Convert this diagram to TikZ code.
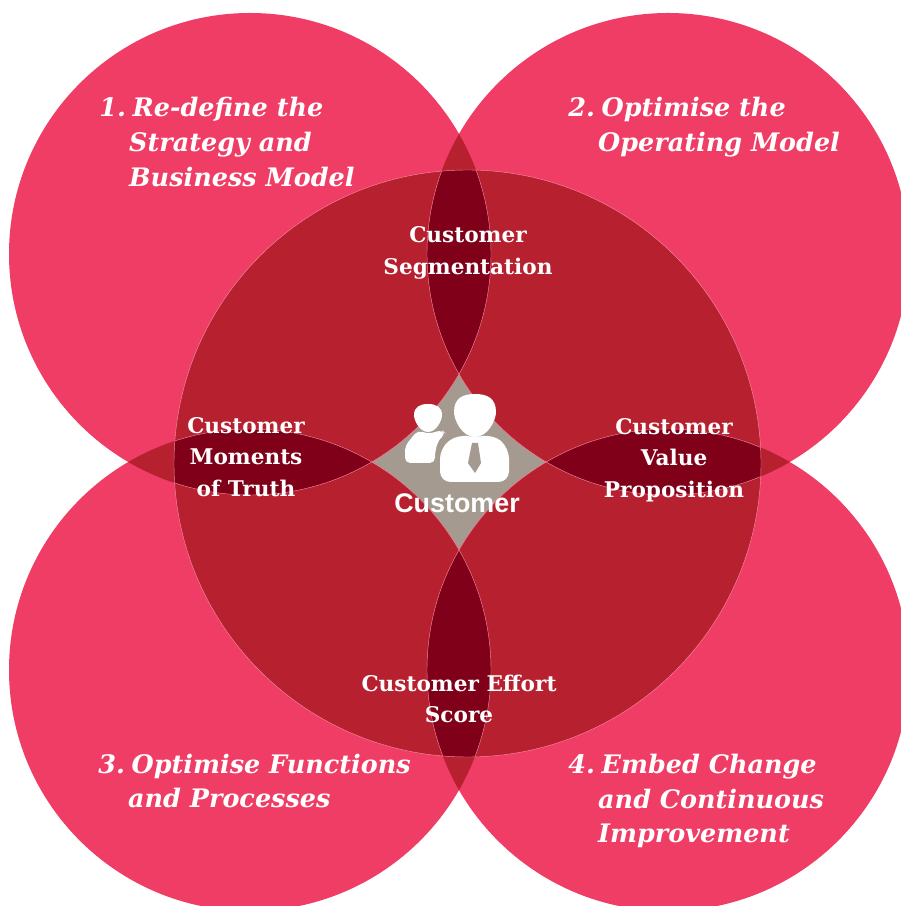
\documentclass[tikz,border=0pt]{standalone}
\usepackage{fontspec}
\usepackage{tikz}
\usetikzlibrary{positioning}
\setmainfont{DejaVu Serif}
\newfontfamily\logofont{Liberation Sans}
\definecolor{petalpink}{HTML}{F03D65}
\definecolor{overlapred}{HTML}{B7202F}
\definecolor{lensdark}{HTML}{7F0018}
\definecolor{coregrey}{HTML}{A59A90}
\tikzstyle{petaltitle}  =[inner sep=0pt, align=left, anchor=west, text=white,
                          font=\fontsize{14.5}{19.9}\selectfont\bfseries\itshape]
\tikzstyle{lenslabel}   =[inner sep=0pt, align=center, text=white,
                          font=\fontsize{12.3}{18}\selectfont\bfseries]
\tikzstyle{hairline}    =[draw=white!40!petalpink, line width=0.25pt]
\newcommand{\titlenum}[1]{\makebox[19pt][l]{#1}}
\newcommand{\titleind}{\hspace*{17pt}}

\begin{document}
\begin{tikzpicture}[x=0.02cm, y=0.02cm]
    \useasboundingbox (0,0) rectangle (901,906);
    \clip (0,0) rectangle (901,906);
    \coordinate (topleft) at (250,652);
    \coordinate (topright) at (668,652);
    \coordinate (bottomleft) at (250,236);
    \coordinate (bottomright) at (668,236);
    \coordinate (middle) at (467.5,442.5);
    % petals
    \fill[coregrey] (middle) circle [radius=293.5];
    \foreach \p in {topleft,topright,bottomleft,bottomright}
        \fill[petalpink] (\p) circle [radius=241];
    \begin{scope}
        \clip (middle) circle [radius=293.5];
        \foreach \p in {topleft,topright,bottomleft,bottomright}
            \fill[overlapred] (\p) circle [radius=241];
    \end{scope}
    % overlaps of neighbours
    \foreach \p/\q in {topleft/topright,topleft/bottomleft,topright/bottomright,bottomleft/bottomright} {
        \begin{scope}
            \clip (\p) circle [radius=241];
            \fill[overlapred] (\q) circle [radius=241];
            \clip (middle) circle [radius=293.5];
            \fill[lensdark] (\q) circle [radius=241];
        \end{scope}
    }
    % thin edges inside the big circle
    \begin{scope}
        \clip (middle) circle [radius=293.5];
        \foreach \p in {topleft,topright,bottomleft,bottomright}
            \draw[hairline] (\p) circle [radius=241];
    \end{scope}
    \draw[hairline] (middle) circle [radius=293.5];
    % people icon
    \fill[white] (428,474) .. controls (420,474) and (414,485) .. (414,491) .. controls (414,499) and (420,502) .. (428,502) .. controls (436,502) and (442,499) .. (442,491) .. controls (442,485) and (436,474) .. (428,474);
    \fill[white, rounded corners=3pt] (405,443) -- (405,460) -- (418,476) -- (428,472) -- (442,476) -- (446,472) .. controls (437,465) and (435,455) .. (435,443) -- cycle;
    \fill[white] (475,469) .. controls (462,469) and (454,486) .. (454,494) .. controls (454,508) and (463,512) .. (475,512) .. controls (487,512) and (496,508) .. (496,494) .. controls (496,486) and (488,469) .. (475,469);
    \fill[white, rounded corners=6pt] (440,424) -- (440,458) -- (458,472) -- (475,468) -- (493,472) -- (509,458) -- (509,424) -- cycle;
    \fill[coregrey] (472,463) -- (478,463) -- (481,443) -- (475,433) -- (468,443) -- cycle;
    \node (customer) [inner sep=0pt, text=white, font=\logofont\fontsize{15.3}{16}\selectfont\bfseries] at (457,403) {Customer};
    % labels
    \node (redefine) [petaltitle] at (99,764) {\titlenum{1.}Re-define the\\\titleind Strategy and\\\titleind Business Model};
    \node (operating) [petaltitle] at (568,779) {\titlenum{2.}Optimise the\\\titleind Operating Model};
    \node (functions) [petaltitle] at (98,125) {\titlenum{3.}Optimise Functions\\\titleind and Processes};
    \node (embed) [petaltitle] at (568,105) {\titlenum{4.}Embed Change\\\titleind and Continuous\\\titleind Improvement};
    \node (segmentation) [lenslabel] at (468,653) {Customer\\Segmentation};
    \node (moments) [lenslabel] at (246,449) {Customer\\Moments\\of Truth};
    \node (proposition) [lenslabel] at (674,446) {Customer\\Value\\Proposition};
    \node (effort) [lenslabel] at (459,207) {Customer Effort\\Score};
\end{tikzpicture}
\end{document}
